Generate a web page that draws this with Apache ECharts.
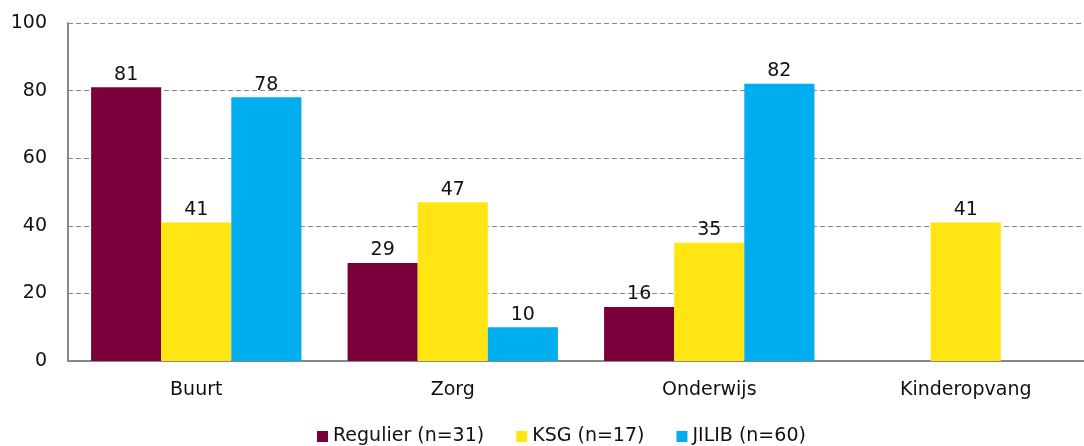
<!DOCTYPE html>
<html>
<head>
<meta charset="utf-8">
<script src="https://cdn.jsdelivr.net/npm/echarts@6/dist/echarts.min.js"></script>
<style>
  html, body { margin: 0; padding: 0; background: #fff; overflow: hidden; }
  #chart { width: 1094px; height: 446px; }
</style>
</head>
<body>
<div id="chart"></div>
<script>
const categories = ['Buurt', 'Zorg', 'Onderwijs', 'Kinderopvang'];
const regulier = [81, 29, 16, null];
const ksg = [41, 47, 35, 41];
const jilib = [78, 10, 82, null];
const seriesNames = ['Regulier (n=31)', 'KSG (n=17)', 'JILIB (n=60)'];
const yTicks = [0, 20, 40, 60, 80, 100];

// the plot runs a little past the right edge of the picture, so the div is wider than the window
const chart = echarts.init(document.getElementById('chart'));
const font = 'DejaVu Sans';

const bar = (name, data, color) => ({
  name,
  type: 'bar',
  data,
  barGap: 0,
  barCategoryGap: '18%',
  itemStyle: { color },
  label: {
    show: true,
    position: 'top',
    distance: 3,
    color: '#111',
    fontFamily: font,
    fontSize: 19
  }
});

chart.setOption({
  animation: false,
  grid: { left: 68, right: 0, top: 23, bottom: 85 },
  legend: {
    top: 422,
    left: 312,
    itemWidth: 11,
    itemHeight: 11,
    itemGap: 32,
    icon: 'rect',
    textStyle: { fontFamily: font, fontSize: 19, color: '#111' }
  },
  xAxis: {
    type: 'category',
    data: categories,
    axisTick: { show: false },
    axisLine: { lineStyle: { color: '#888', width: 2 } },
    axisLabel: { fontFamily: font, fontSize: 19, color: '#111', margin: 20 }
  },
  yAxis: {
    type: 'value',
    min: yTicks[0],
    max: yTicks[yTicks.length - 1],
    interval: 20,
    axisLine: { show: true, lineStyle: { color: '#888', width: 2 } },
    axisTick: { show: false },
    axisLabel: { fontFamily: font, fontSize: 19, color: '#111', margin: 21 },
    splitLine: { lineStyle: { color: '#888', type: [5, 3], width: 1.2 } }
  },
  series: [
    bar(seriesNames[0], regulier, '#7a003c'),
    bar(seriesNames[1], ksg, '#ffe512'),
    bar(seriesNames[2], jilib, '#00aeef')
  ]
});
</script>
</body>
</html>
